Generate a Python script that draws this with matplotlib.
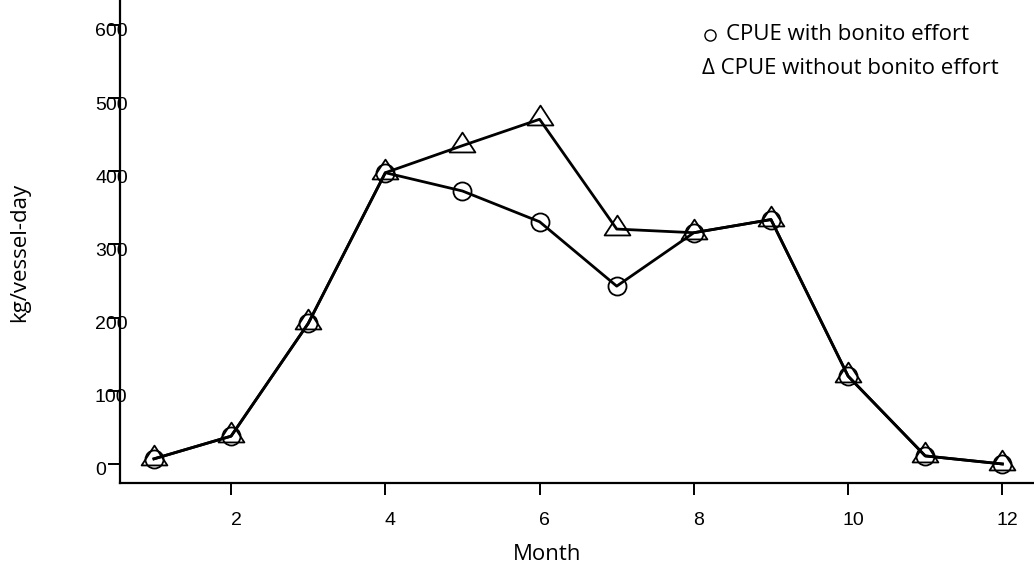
import matplotlib
matplotlib.use("Agg")
import matplotlib.pyplot as plt
import matplotlib.transforms as mtransforms
from matplotlib.path import Path

months = [1, 2, 3, 4, 5, 6, 7, 8, 9, 10, 11, 12]
cpue_with = [7, 38, 192, 398, 373, 331, 243, 316, 334, 120, 11, 0]
cpue_without = [7, 38, 192, 398, 435, 471, 321, 316, 334, 120, 11, 0]
xticks = [2, 4, 6, 8, 10, 12]
yticks = [0, 100, 200, 300, 400, 500, 600]

W, H, DPI = 1034, 568, 100
fig = plt.figure(figsize=(W / DPI, H / DPI), dpi=DPI)
ax = fig.add_axes([120 / W, 1 - 483 / H, 1 - 120 / W, 483 / H])

tri = Path([(0, 14), (-13, -6), (13, -6), (0, 14)],
           [Path.MOVETO, Path.LINETO, Path.LINETO, Path.CLOSEPOLY])

ax.plot(months, cpue_with, color="black", lw=2.0, marker="o", ms=13,
        mfc="none", mec="black", mew=1.3, clip_on=False)
ax.plot(months, cpue_without, color="black", lw=2.0, marker=tri, ms=20,
        mfc="none", mec="black", mew=1.3, clip_on=False)

ax.set_xlim(0.56, 12.41)
ax.set_ylim(-26, 634)
ax.spines["top"].set_visible(False)
ax.spines["right"].set_visible(False)
for s in ("left", "bottom"):
    ax.spines[s].set_linewidth(1.6)

ax.set_xticks(xticks)
ax.set_yticks(yticks)
tick_font = dict(family=["Liberation Sans", "DejaVu Sans"], size=14)
ax.set_xticklabels([str(v) for v in xticks], **tick_font)
ax.set_yticklabels([str(v) for v in yticks], **tick_font)
ax.tick_params(axis="both", length=8.6, width=1.4, color="black")
ax.tick_params(axis="x", pad=12)
ax.tick_params(axis="y", pad=9.4)

dx = mtransforms.ScaledTranslation(5 / DPI, 0, fig.dpi_scale_trans)
for lbl in ax.get_xticklabels():
    lbl.set_transform(lbl.get_transform() + dx)
dy = mtransforms.ScaledTranslation(0, -5 / DPI, fig.dpi_scale_trans)
for lbl in ax.get_yticklabels():
    lbl.set_ha("left")
    lbl.set_transform(lbl.get_transform() + dy)

label_font = ["Open Sans", "DejaVu Sans"]
fig.text(547 / W, 1 - 555 / H, "Month", family=label_font, size=16,
         ha="center", va="center")
fig.text(20 / W, 1 - 252 / H, "kg/vessel-day", family=label_font, size=16,
         ha="center", va="center", rotation=90)

fig.lines.append(plt.Line2D([710 / W], [1 - 35 / H], transform=fig.transFigure,
                            marker="o", ms=8, mfc="none", mec="black", mew=1.0))
fig.text(726 / W, 1 - 34 / H, "CPUE with bonito effort", family=label_font,
         size=16, ha="left", va="center")
fig.text(702 / W, 1 - 68 / H, "Δ CPUE without bonito effort", family=label_font,
         size=16, ha="left", va="center")

fig.savefig("out.png", dpi=DPI)
